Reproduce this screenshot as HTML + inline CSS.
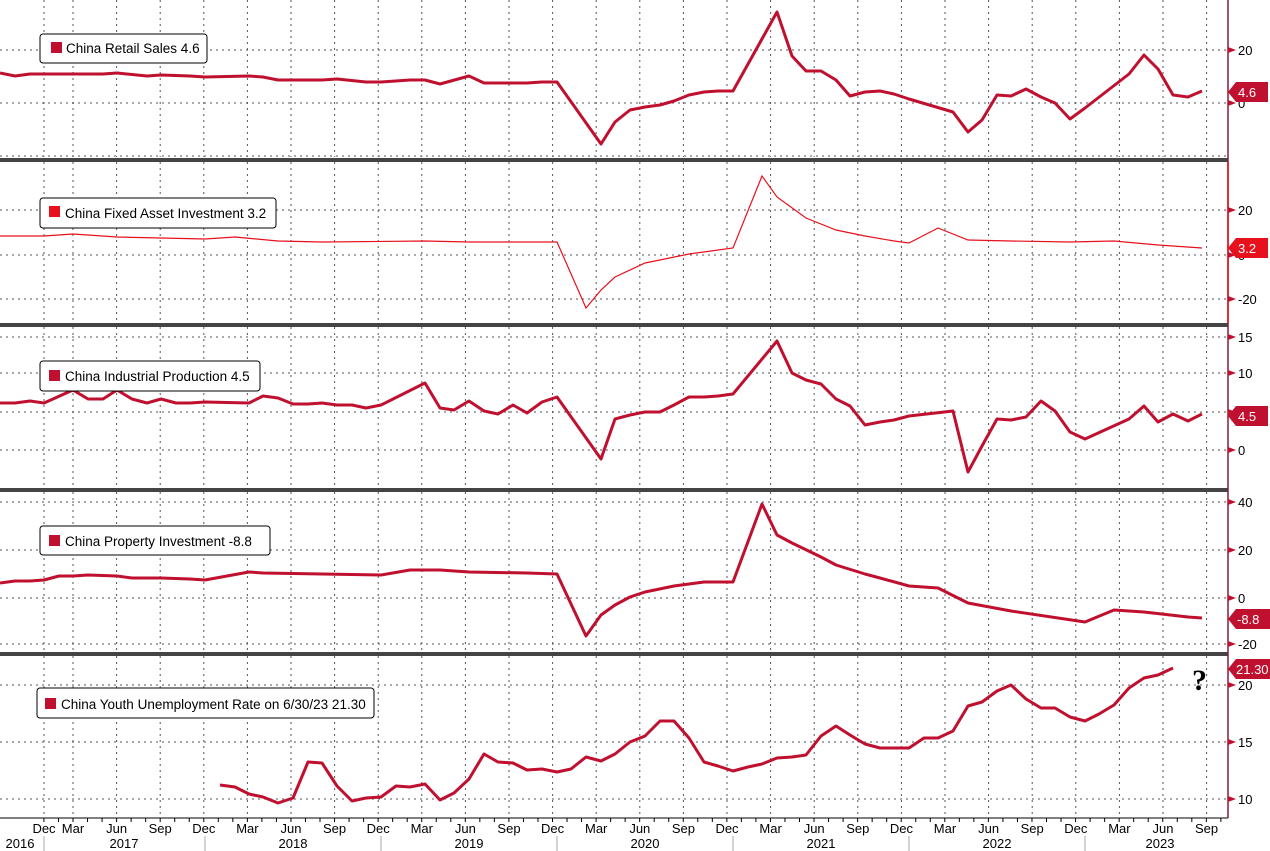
<!DOCTYPE html>
<html><head><meta charset="utf-8"><style>
body{margin:0;background:#fff;width:1270px;height:851px;overflow:hidden}
svg{display:block;font-family:"Liberation Sans",sans-serif}
</style></head><body>
<svg id="c" width="1270" height="851" viewBox="0 0 1270 851" xmlns="http://www.w3.org/2000/svg">
<g id="grid" stroke="#555" stroke-width="1" stroke-dasharray="2,4"></g>
<g fill="none" stroke="#c0102f" stroke-width="3" stroke-linejoin="round">
<polyline points="0,73 15,76 30,74 73,74 103,74 117,73 147,76 161,75 190,76 205,77 249,76 263,77 278,80 322,80 337,79 366,82 381,82 410,80 425,80 440,84 469,76 484,83 527,83 542,82 557,82 601,144 615,122 630,110 645,107 660,105 674,101 689,95 704,92 718,91 733,91 777,12 792,56 806,71 821,71 836,80 850,96 865,92 880,91 894,94 909,99 953,112 968,132 982,120 997,95 1011,96 1026,89 1041,97 1055,103 1070,119 1085,108 1129,74 1144,55 1158,69 1173,95 1188,97 1202,91"/>
<polyline points="0,403 15,403 30,401 44,403 73,390 88,399 103,399 117,390 132,399 147,403 161,399 176,403 190,403 205,402 249,403 263,396 278,398 293,404 308,404 322,403 337,405 352,405 366,408 381,405 425,383 440,408 454,410 469,401 484,411 498,414 513,405 527,413 542,402 557,397 601,459 615,419 630,415 645,412 660,412 674,405 689,397 704,397 718,396 733,394 777,341 792,373 806,380 821,384 836,399 850,406 865,425 880,422 894,420 909,416 953,411 968,472 982,446 997,419 1011,420 1026,417 1041,401 1055,411 1070,432 1085,439 1129,419 1144,406 1158,422 1173,414 1188,421 1202,414"/>
<polyline points="0,583 15,581 30,581 44,580 59,576 73,576 88,575 117,576 132,578 161,578 190,579 205,580 249,572 263,573 381,575 410,570 440,570 469,572 527,573 557,574 586,636 601,615 615,605 630,597 645,592 674,586 704,582 733,582 762,504 777,535 792,543 821,557 836,565 865,574 880,578 909,586 938,588 968,603 1011,611 1085,622 1114,610 1144,612 1188,617 1202,618"/>
<polyline points="220,785 235,787 249,794 263,797 278,803 293,798 308,762 322,763 337,786 352,801 366,798 381,797 396,786 410,787 425,784 440,800 454,793 469,779 484,754 498,762 513,763 527,770 542,769 557,772 571,769 586,757 601,761 615,754 630,742 645,736 660,721 674,721 689,738 704,762 718,766 733,771 748,767 762,764 777,758 792,757 806,755 821,736 836,726 850,735 865,744 880,748 909,748 924,738 938,738 953,731 968,706 982,702 997,691 1011,685 1026,699 1041,708 1055,708 1070,717 1085,721 1099,714 1114,705 1129,688 1144,678 1158,675 1173,668"/>
</g>
<polyline fill="none" stroke="#e8101c" stroke-width="1.2" points="0,236 44,236 73,234 117,237 161,238 205,239 235,237 278,241 322,242 425,241 469,242 557,242 586,308 601,290 615,277 645,263 689,254 733,248 762,176 777,197 806,218 836,230 865,236 894,241 909,243 938,228 968,240 1011,241 1070,242 1114,241 1158,245 1202,248"/>
<g fill="#444"><rect x="0" y="158" width="1228" height="4"/><rect x="0" y="323" width="1228" height="4"/><rect x="0" y="488" width="1228" height="4"/><rect x="0" y="652" width="1228" height="4"/></g>
<line x1="1228" y1="0" x2="1228" y2="818" stroke="#8a1a3a" stroke-width="1.5"/>
<line x1="1228" y1="162" x2="1228" y2="323" stroke="#e8101c" stroke-width="1.5"/>
<line x1="0" y1="818" x2="1228" y2="818" stroke="#000" stroke-width="1"/>
<g id="ticks"></g>
<g font-size="13.5" fill="#000">
<rect x="40" y="34" width="167" height="29" rx="3" fill="#fff" stroke="#000"/><rect x="51" y="42" width="11" height="11" fill="#c0102f"/><text x="66" y="53">China Retail Sales 4.6</text>
<rect x="40" y="198" width="236" height="30" rx="3" fill="#fff" stroke="#000"/><rect x="49" y="206" width="11" height="11" fill="#e8101c"/><text x="65" y="218">China Fixed Asset Investment 3.2</text>
<rect x="40" y="361" width="220" height="30" rx="3" fill="#fff" stroke="#000"/><rect x="49" y="370" width="11" height="11" fill="#c0102f"/><text x="65" y="381">China Industrial Production 4.5</text>
<rect x="40" y="526" width="230" height="29" rx="3" fill="#fff" stroke="#000"/><rect x="49" y="535" width="11" height="11" fill="#c0102f"/><text x="65" y="546">China Property Investment -8.8</text>
<rect x="37" y="688" width="337" height="30" rx="3" fill="#fff" stroke="#000"/><rect x="45" y="698" width="11" height="11" fill="#c0102f"/><text x="61" y="709">China Youth Unemployment Rate on 6/30/23 21.30</text>
</g>
<g font-size="13" fill="#000" id="ylab"></g>
<g font-size="13" fill="#fff">
<path d="M1228,92 L1236,82 H1268 V102 H1236Z" fill="#c0102f"/><text x="1238" y="97">4.6</text>
<path d="M1228,248 L1236,238 H1268 V258 H1236Z" fill="#e8101c"/><text x="1238" y="253">3.2</text>
<path d="M1228,416 L1236,406 H1268 V426 H1236Z" fill="#c0102f"/><text x="1238" y="421">4.5</text>
<path d="M1228,619 L1236,609 H1270 V629 H1236Z" fill="#c0102f"/><text x="1237" y="624">-8.8</text>
<path d="M1228,669 L1236,659 H1270 V679 H1236Z" fill="#c0102f"/><text x="1236" y="674">21.30</text>
</g>
<text x="1192" y="690" font-size="30" font-weight="bold" fill="#000" style="font-family:'Liberation Serif',serif">?</text>
<g font-size="13" fill="#000" id="xlab"></g>
</svg>
<script>
var ns="http://www.w3.org/2000/svg";
function el(p,t,a,txt){var e=document.createElementNS(ns,t);for(var k in a)e.setAttribute(k,a[k]);if(txt)e.textContent=txt;document.getElementById(p).appendChild(e);}
var xs=[44,73],labs=["Dec","Mar"];var ml=["Jun","Sep","Dec","Mar"];
for(var i=1;i<=26;i++){xs.push(73+i*43.6);labs.push(ml[(i-1)%4]);}
var panels=[[0,157],[162,322],[327,487],[492,651],[656,818]];
panels.forEach(function(p){xs.forEach(function(x){el("grid","line",{x1:x,y1:p[0],x2:x,y2:p[1]});});});
var hy=[50,103,156,210,255,299,337,373,412,450,502,550,598,644,685,742,799];
hy.forEach(function(y){el("grid","line",{x1:0,y1:y,x2:1226,y2:y});});
var yl=[[50,"20"],[103,"0"],[210,"20"],[255,"0"],[299,"-20"],[337,"15"],[373,"10"],[412,"5"],[450,"0"],[502,"40"],[550,"20"],[598,"0"],[644,"-20"],[685,"20"],[742,"15"],[799,"10"]];
yl.forEach(function(a){el("ylab","text",{x:1238,y:a[0]+5},a[1]);el("ticks","path",{d:"M1228,"+(a[0]-3)+" L1236,"+a[0]+" L1228,"+(a[0]+3)+"Z",fill:"#c0102f"});});
for(var m=0;m<86;m++){var x=73+(m-2)*14.53;if(x<0||x>1226)continue;el("ticks","line",{x1:x,y1:818,x2:x,y2:822,stroke:"#000"});}
xs.forEach(function(x,i){el("xlab","text",{x:x,y:833,"text-anchor":"middle"},labs[i]);});
var yrs=[[20,"2016"],[124,"2017"],[293,"2018"],[469,"2019"],[645,"2020"],[821,"2021"],[997,"2022"],[1160,"2023"]];
yrs.forEach(function(a){el("xlab","text",{x:a[0],y:848,"text-anchor":"middle"},a[1]);});
[44,205,381,557,733,909,1085].forEach(function(x){el("ticks","line",{x1:x,y1:836,x2:x,y2:851,stroke:"#aaa"});});
</script>
</body></html>
